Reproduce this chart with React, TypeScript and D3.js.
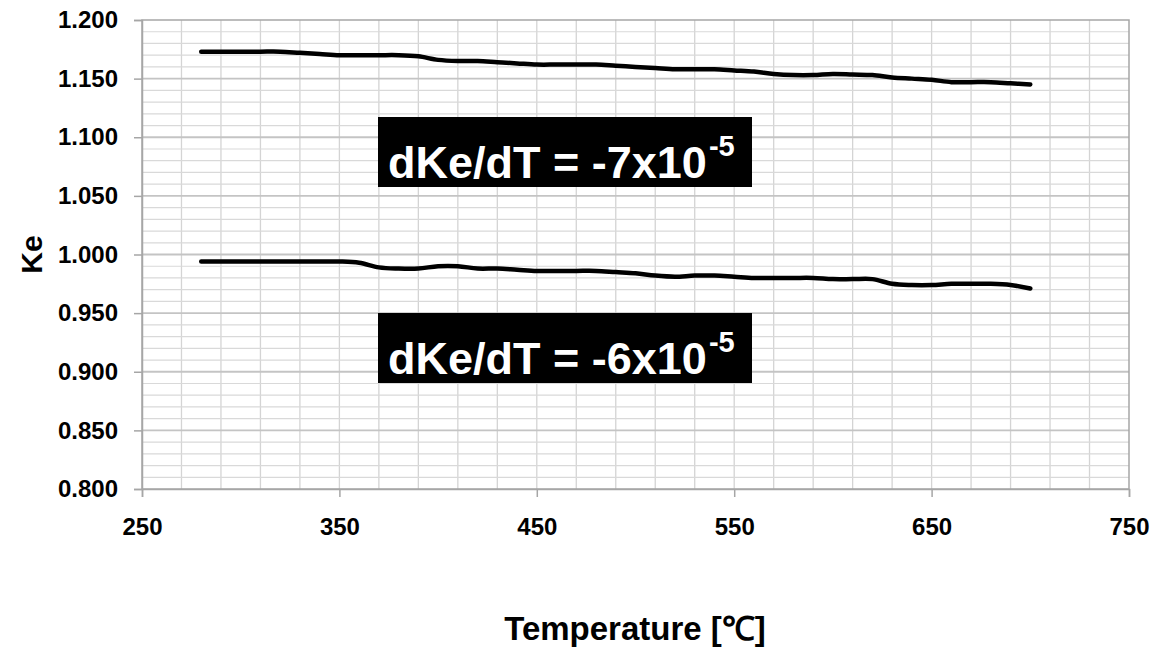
import React, { useEffect, useRef } from "react";
import * as d3 from "d3";

// temperature (°C) every 10 degrees
const temps = d3.range(280, 701, 10);

// upper curve Ke values
const keUpper = [
  1.173, 1.173, 1.173, 1.173, 1.173, 1.172, 1.171, 1.170, 1.170, 1.170, 1.170,
  1.169, 1.166, 1.165, 1.165, 1.164, 1.163, 1.162, 1.162, 1.162, 1.162, 1.161,
  1.160, 1.159, 1.158, 1.158, 1.158, 1.157, 1.156, 1.154, 1.153, 1.153, 1.154,
  1.1535, 1.153, 1.151, 1.150, 1.149, 1.147, 1.147, 1.147, 1.146, 1.145,
];

// lower curve Ke values
const keLower = [
  0.994, 0.994, 0.994, 0.994, 0.994, 0.994, 0.994, 0.994, 0.993, 0.989, 0.988,
  0.988, 0.990, 0.990, 0.988, 0.988, 0.987, 0.986, 0.986, 0.986, 0.986, 0.985,
  0.984, 0.982, 0.981, 0.982, 0.982, 0.981, 0.980, 0.980, 0.980, 0.980, 0.979,
  0.979, 0.979, 0.975, 0.974, 0.974, 0.975, 0.975, 0.975, 0.974, 0.971,
];

const xTicks = [250, 350, 450, 550, 650, 750];
const yTicks = [0.8, 0.85, 0.9, 0.95, 1.0, 1.05, 1.1, 1.15, 1.2];

const notes = [
  { text: "dKe/dT = -7x10", exp: "-5", top: 117 },
  { text: "dKe/dT = -6x10", exp: "-5", top: 313 },
];

const FONT = "'Liberation Sans', Arial, sans-serif";

const App = () => {
  const ref = useRef<SVGSVGElement>(null);

  useEffect(() => {
    const width = 1162;
    const height = 659;
    const left = 142;
    const right = 1129;
    const top = 20;
    const bottom = 489;

    const svg = d3.select(ref.current);
    svg.selectAll("*").remove();
    svg.attr("width", width).attr("height", height);

    const x = d3.scaleLinear().domain([250, 750]).range([left, right]);
    const y = d3.scaleLinear().domain([0.8, 1.2]).range([bottom, top]);

    // grid
    const grid = svg.append("g");
    grid
      .selectAll("line.v")
      .data(d3.range(270, 750, 20))
      .join("line")
      .attr("x1", (d) => x(d))
      .attr("x2", (d) => x(d))
      .attr("y1", top)
      .attr("y2", bottom)
      .attr("stroke", "#d4d4d4")
      .attr("stroke-width", 1.3);
    grid
      .selectAll("line.h")
      .data(d3.range(1, 40))
      .join("line")
      .attr("x1", left)
      .attr("x2", right)
      .attr("y1", (d) => y(0.8 + d * 0.01))
      .attr("y2", (d) => y(0.8 + d * 0.01))
      .attr("stroke", (d) => (d % 5 === 0 ? "#c4c4c4" : "#d9d9d9"))
      .attr("stroke-width", (d) => (d % 5 === 0 ? 1.8 : 1.2));

    // plot border
    svg
      .append("rect")
      .attr("x", left)
      .attr("y", top)
      .attr("width", right - left)
      .attr("height", bottom - top)
      .attr("fill", "none")
      .attr("stroke", "#a6a6a6")
      .attr("stroke-width", 1.5);

    // axes
    const xAxis = svg
      .append("g")
      .attr("transform", `translate(0,${bottom})`)
      .call(d3.axisBottom(x).tickValues(xTicks).tickSize(8).tickPadding(21));
    const yAxis = svg
      .append("g")
      .attr("transform", `translate(${left},0)`)
      .call(
        d3
          .axisLeft(y)
          .tickValues(yTicks)
          .tickSize(8)
          .tickPadding(16)
          .tickFormat(d3.format(".3f"))
      );
    [xAxis, yAxis].forEach((g) => {
      g.select(".domain").attr("stroke", "#a6a6a6").attr("stroke-width", 1.5);
      g.selectAll(".tick line").attr("stroke", "#a6a6a6").attr("stroke-width", 1.5);
      g.selectAll("text")
        .attr("font-family", FONT)
        .attr("font-weight", "bold")
        .attr("font-size", 24)
        .attr("fill", "#000");
    });

    // curves
    const line = d3
      .line<number>()
      .x((_, i) => x(temps[i]))
      .y((d) => y(d))
      .curve(d3.curveCatmullRom.alpha(0.5));
    [keUpper, keLower].forEach((s) => {
      svg
        .append("path")
        .datum(s)
        .attr("d", line)
        .attr("fill", "none")
        .attr("stroke", "#000")
        .attr("stroke-width", 4.5)
        .attr("stroke-linecap", "round")
        .attr("stroke-linejoin", "round");
    });

    // slope annotations
    notes.forEach((n) => {
      svg
        .append("rect")
        .attr("x", 378)
        .attr("y", n.top)
        .attr("width", 374)
        .attr("height", 70)
        .attr("fill", "#000");
      const t = svg
        .append("text")
        .attr("x", 388)
        .attr("y", n.top + 61)
        .attr("font-family", FONT)
        .attr("font-weight", "bold")
        .attr("font-size", 45)
        .attr("fill", "#fff");
      t.append("tspan").text(n.text);
      t.append("tspan")
        .attr("dy", -22)
        .attr("dx", 2)
        .attr("font-size", 29)
        .text(n.exp);
    });

    // axis titles
    svg
      .append("text")
      .attr("transform", `translate(42,${(top + bottom) / 2}) rotate(-90)`)
      .attr("text-anchor", "middle")
      .attr("font-family", FONT)
      .attr("font-weight", "bold")
      .attr("font-size", 30)
      .text("Ke");
    svg
      .append("text")
      .attr("x", 635)
      .attr("y", 640)
      .attr("text-anchor", "middle")
      .attr("font-family", FONT)
      .attr("font-weight", "bold")
      .attr("font-size", 33)
      .text("Temperature [℃]");
  }, []);

  return (
    <svg
      ref={ref}
      style={{ position: "absolute", left: 0, top: 0, background: "#fff" }}
    />
  );
};

export default App;
